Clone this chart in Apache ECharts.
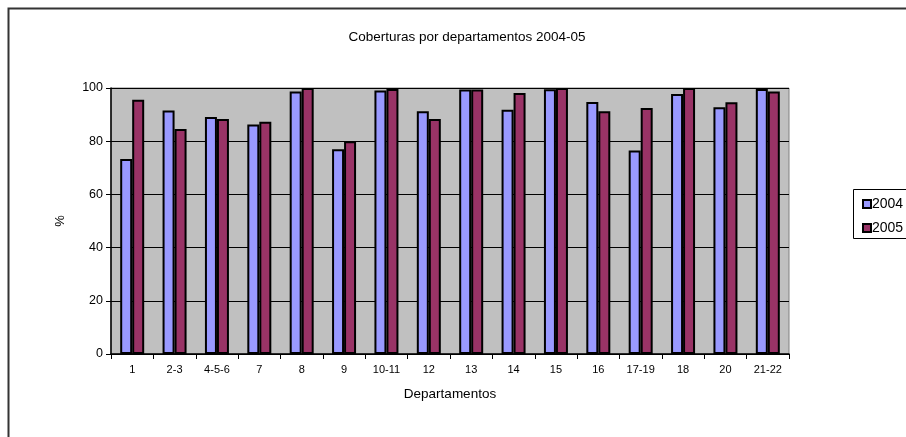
<!DOCTYPE html>
<html>
<head>
<meta charset="utf-8">
<script src="https://cdn.jsdelivr.net/npm/echarts@6/dist/echarts.min.js"></script>
<style>
html,body{margin:0;padding:0;background:#fff;}
#chart{width:906px;height:437px;}
</style>
</head>
<body>
<div id="chart"></div>
<script>
const categories = ['1','2-3','4-5-6','7','8','9','10-11','12','13','14','15','16','17-19','18','20','21-22'];
const values2004 = [73.3,91.5,89.1,86.3,98.7,77.0,99.1,91.3,99.4,91.8,99.5,94.7,76.5,97.7,92.8,99.6];
const values2005 = [95.6,84.6,88.3,87.3,100,80.0,99.6,88.3,99.4,98.1,100,91.3,92.5,100,94.6,98.7];
const yTicks = [0,20,40,60,80,100];

const chart = echarts.init(document.getElementById('chart'));
const font = 'Liberation Sans, Arial, sans-serif';
chart.setOption({
  animation: false,
  backgroundColor: '#fff',
  title: {
    text: 'Coberturas por departamentos 2004-05',
    left: 462, top: 25, textAlign: 'center',
    textStyle: {fontFamily: font, fontSize: 13.5, fontWeight: 'normal', color: '#000'}
  },
  graphic: [
    {type: 'rect', shape: {x: 8.5, y: 8.5, width: 920, height: 440}, style: {fill: null, stroke: '#333', lineWidth: 2}, z: -1},
    {type: 'rect', shape: {x: 853.5, y: 189.5, width: 60, height: 49}, style: {fill: '#fff', stroke: '#000', lineWidth: 1}, z: 0}
  ],
  legend: {
    orient: 'vertical',
    left: 857, top: 192,
    itemWidth: 8, itemHeight: 8, itemGap: 10,
    icon: 'rect',
    textStyle: {fontFamily: font, fontSize: 14, color: '#000', padding: [0,0,0,-4]},
    data: ['2004','2005'],
    z: 5
  },
  grid: {
    left: 111, right: 117, top: 88, bottom: 83,
    show: true, backgroundColor: '#C0C0C0', borderColor: '#808080', borderWidth: 1
  },
  xAxis: {
    type: 'category',
    data: categories,
    name: 'Departamentos', nameLocation: 'middle', nameGap: 33,
    nameTextStyle: {fontFamily: font, fontSize: 13.5, color: '#000'},
    axisLine: {lineStyle: {color: '#000', width: 1.5}},
    axisTick: {show: true, alignWithLabel: false, length: 5, lineStyle: {color: '#000'}},
    axisLabel: {fontFamily: font, fontSize: 11, color: '#000', margin: 10, interval: 0}
  },
  yAxis: {
    type: 'value', min: 0, max: 100, interval: 20,
    name: '%', nameLocation: 'middle', nameGap: 44, nameRotate: 90,
    nameTextStyle: {fontFamily: font, fontSize: 13, color: '#000'},
    axisLine: {show: true, lineStyle: {color: '#000', width: 1.5}},
    axisTick: {show: true, length: 5, lineStyle: {color: '#000'}},
    axisLabel: {fontFamily: font, fontSize: 12.5, color: '#000', margin: 8,
      formatter: v => yTicks.includes(v) ? String(v) : ''},
    splitLine: {show: true, lineStyle: {color: '#000', width: 1}}
  },
  series: [
    {name: '2004', type: 'bar', data: values2004, barWidth: 12, barGap: '0%',
     itemStyle: {color: '#9999FF', borderColor: '#000', borderWidth: 2}},
    {name: '2005', type: 'bar', data: values2005, barWidth: 12, barGap: '0%',
     itemStyle: {color: '#993366', borderColor: '#000', borderWidth: 2}}
  ]
});
</script>
</body>
</html>
